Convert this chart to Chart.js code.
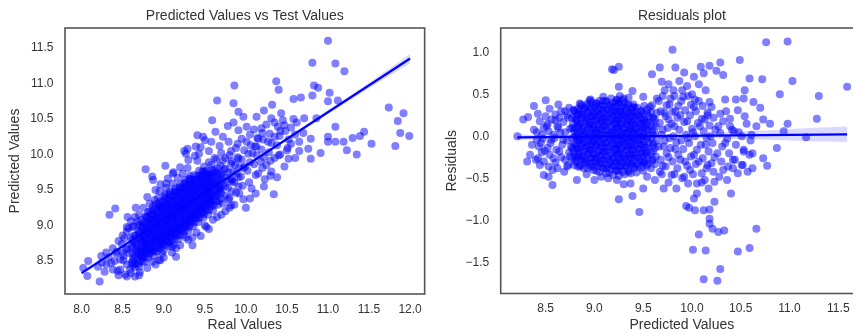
<!DOCTYPE html>
<html>
<head>
<meta charset="utf-8">
<script src="https://cdn.jsdelivr.net/npm/chart.js@4.4.1/dist/chart.umd.min.js"></script>
<style>
html, body { margin: 0; padding: 0; background: #fff; overflow: hidden; width: 853px; height: 334px; }
#left { position: absolute; left: 0; top: 0; }
#right { position: absolute; left: 430px; top: 0; }
</style>
</head>
<body>
<canvas id="left" width="430" height="334"></canvas>
<canvas id="right" width="440" height="334"></canvas>
<script>
// ---- tick labels ----
let leftXTicks = [8.0, 8.5, 9.0, 9.5, 10.0, 10.5, 11.0, 11.5, 12.0];
let leftYTicks = [8.5, 9.0, 9.5, 10.0, 10.5, 11.0, 11.5];
let rightXTicks = [8.5, 9.0, 9.5, 10.0, 10.5, 11.0, 11.5];
let rightYTicks = [-1.5, -1.0, -0.5, 0.0, 0.5, 1.0];

// ---- left: real value vs predicted value ----
let testVsPredicted = [
  [11.0,11.6],[10.81,11.29],[11.09,11.28],[11.2,11.17],[10.37,11.03],[10.4,10.91],[9.86,10.97],[10.83,10.97],
  [10.88,10.94],[11.02,10.87],[9.65,10.76],[10.58,10.78],[10.67,10.8],[10.81,10.83],[11.12,10.76],[11.0,10.75],
  [9.85,10.72],[11.74,10.66],[11.92,10.58],[11.85,10.47],[11.88,10.3],[11.99,10.26],[11.82,10.12],[11.53,10.15],
  [11.44,10.32],[11.39,10.26],[11.3,10.23],[11.35,10.0],[11.23,10.06],[11.19,10.18],[11.09,10.18],[11.0,10.18],
  [11.0,10.25],[11.09,10.39],[10.91,10.02],[10.79,9.94],[10.79,10.22],[10.86,10.51],[10.71,10.51],[10.58,10.5],
  [10.47,10.41],[10.51,10.09],[10.65,10.05],[10.65,10.18],[10.76,10.08],[10.32,10.7],[10.43,10.58],[10.22,10.62],
  [10.13,10.53],[9.91,10.6],[9.97,10.53],[9.91,10.34],[10.01,10.39],[10.19,10.37],[10.31,10.51],[10.27,10.18],
  [10.15,10.22],[10.35,10.25],[10.13,10.11],[10.01,10.18],[9.79,10.18],[9.59,10.48],[9.63,10.32],[9.48,10.25],
  [9.41,10.27],[9.29,10.08],[9.39,10.11],[9.27,10.01],[9.43,10.01],[10.34,9.44],[10.0,9.25],[9.86,9.29],
  [9.79,9.37],[9.97,9.37],[10.23,9.65],[10.31,9.76],[10.47,9.83],[10.52,9.94],[10.07,9.52],[10.15,9.73],
  [9.83,9.64],[9.99,9.83],[9.69,9.5],[9.55,9.45],[9.52,8.98],[9.35,8.83],[9.27,8.83],[9.15,8.56],
  [9.1,8.7],[8.96,8.51],[8.98,8.61],[8.78,9.79],[8.87,9.64],[8.86,9.69],[9.02,9.84],[9.11,9.73],
  [9.03,9.59],[8.34,9.15],[8.41,9.24],[8.66,9.25],[8.02,8.4],[8.07,8.29],[8.22,8.21],[8.08,8.5],
  [8.24,8.57],[8.2,8.42],[8.42,8.61],[8.36,8.47],[8.47,8.38],[8.6,8.33],[8.7,8.42],[8.74,8.49],
  [8.51,8.51],[8.62,8.44],[8.54,8.67],[8.86,8.49],[8.56,9.12],[8.62,8.98],
  [9.62,9.95],[9.7,10.02],[9.75,9.95],[9.82,10.05],[9.9,10.15],[9.95,10.22],[10.05,10.28],[10.1,10.35],
  [10.2,10.3],[10.25,10.42],[10.35,10.45],[10.42,10.33],[10.45,10.48],[10.55,10.38],[10.6,10.28],[10.7,10.3],
  [10.62,10.45],[9.68,10.12],[9.55,10.05],[9.58,10.18],[9.72,10.25],[9.85,10.45],[9.78,10.4],[10.08,10.02],
  [10.18,9.9],[10.25,9.85],[10.35,9.95],[10.42,10.0],[10.3,9.7],[10.22,9.55],[10.12,9.45],[10.05,9.38],
  [9.92,9.45],[9.82,9.28],[9.75,9.2],[9.65,9.12],[10.38,9.68],[10.55,10.15],[10.6,9.95],
  [8.3,8.45],[8.33,8.55],[8.38,8.38],[8.4,8.5],[8.45,8.3],[8.5,8.62],[8.38,8.68],[8.45,8.78],
  [8.5,8.86],[8.55,8.98],[8.6,9.06],[8.65,9.12],[8.55,8.28],[8.65,8.28],[8.3,8.62],[8.25,8.48],[8.28,8.35],
  [8.75,9.25],[8.8,9.4],[8.9,9.5],[8.95,9.48],[8.7,9.15],
  [8.96,9.58],[9.05,9.66],[9.12,9.75],[9.2,9.82],[9.3,9.92],[9.38,9.98],[9.25,10.05],[9.45,10.1],
  [9.5,10.2],[9.2,8.72],[9.3,8.8],[9.4,8.9],[9.5,9.0],[9.6,9.08],[9.7,9.15],[9.8,9.25],
  [9.45,8.85],[9.35,8.72],[9.55,8.95],[9.1,8.62],[9.0,8.55],[8.9,8.45],[8.8,8.4],[8.7,8.3],[9.15,8.68],
  // dense band
  [8.44,8.36],[8.47,8.52],[8.43,8.63],[8.49,8.74],
  [8.53,8.31],[8.55,8.45],[8.51,8.57],[8.56,8.67],[8.52,8.82],[8.55,8.91],
  [8.59,8.38],[8.61,8.47],[8.58,8.61],[8.62,8.71],[8.60,8.83],[8.57,8.96],
  [8.65,8.41],[8.63,8.53],[8.67,8.62],[8.64,8.76],[8.66,8.86],[8.63,8.99],[8.68,9.06],
  [8.71,8.34],[8.69,8.46],[8.72,8.57],[8.70,8.67],[8.73,8.79],[8.71,8.89],[8.69,9.01],
  [8.77,8.49],[8.75,8.61],[8.78,8.71],[8.76,8.81],[8.79,8.93],[8.75,9.03],[8.78,9.13],
  [8.81,8.55],[8.83,8.65],[8.80,8.75],[8.84,8.85],[8.82,8.96],[8.85,9.06],[8.81,9.19],[8.83,9.31],
  [8.88,8.57],[8.86,8.69],[8.89,8.79],[8.87,8.89],[8.90,8.99],[8.88,9.09],[8.86,9.21],[8.89,9.36],
  [8.94,8.51],[8.92,8.63],[8.95,8.73],[8.93,8.83],[8.96,8.93],[8.94,9.03],[8.92,9.13],[8.95,9.25],[8.93,9.39],
  [9.00,8.65],[8.98,8.77],[9.01,8.87],[8.99,8.97],[9.02,9.06],[9.00,9.16],[8.98,9.27],[9.01,9.41],[9.03,9.53],
  [9.06,8.71],[9.04,8.81],[9.07,8.91],[9.05,9.01],[9.08,9.11],[9.06,9.21],[9.04,9.31],[9.07,9.45],
  [9.12,8.73],[9.10,8.85],[9.13,8.95],[9.11,9.05],[9.14,9.15],[9.12,9.25],[9.10,9.35],[9.13,9.47],[9.11,9.59],
  [9.18,8.81],[9.16,8.91],[9.19,9.01],[9.17,9.11],[9.20,9.21],[9.18,9.31],[9.16,9.41],[9.19,9.53],[9.17,9.67],
  [9.24,8.87],[9.22,8.97],[9.25,9.07],[9.23,9.17],[9.26,9.27],[9.24,9.37],[9.22,9.47],[9.25,9.59],[9.23,9.73],
  [9.30,8.93],[9.28,9.03],[9.31,9.13],[9.29,9.23],[9.32,9.33],[9.30,9.43],[9.28,9.53],[9.31,9.65],[9.29,9.81],
  [9.36,8.99],[9.34,9.09],[9.37,9.19],[9.35,9.29],[9.38,9.39],[9.36,9.49],[9.34,9.59],[9.37,9.71],
  [9.42,9.05],[9.40,9.15],[9.43,9.25],[9.41,9.35],[9.44,9.45],[9.42,9.55],[9.40,9.65],[9.43,9.77],[9.41,9.91],
  [9.48,9.11],[9.46,9.21],[9.49,9.31],[9.47,9.41],[9.50,9.51],[9.48,9.61],[9.46,9.71],[9.49,9.83],
  [9.54,9.15],[9.52,9.27],[9.55,9.37],[9.53,9.47],[9.56,9.57],[9.54,9.67],[9.52,9.77],[9.55,9.89],
  [9.60,9.21],[9.58,9.33],[9.61,9.43],[9.59,9.53],[9.62,9.63],[9.60,9.73],[9.58,9.85],
  [9.66,9.29],[9.64,9.41],[9.67,9.51],[9.65,9.61],[9.68,9.71],[9.66,9.81],[9.64,9.93],
  [9.72,9.31],[9.70,9.46],[9.73,9.59],[9.71,9.69],[9.74,9.79],[9.72,9.91],
  [9.80,9.39],[9.78,9.53],[9.81,9.65],[9.79,9.75],[9.82,9.87],[9.80,9.99],
  [9.88,9.46],[9.86,9.61],[9.89,9.73],[9.87,9.85],[9.90,9.96],[9.88,10.09],
  [9.96,9.56],[9.94,9.69],[9.97,9.81],[9.95,9.93],[9.98,10.06],
  [10.04,9.61],[10.02,9.77],[10.05,9.89],[10.03,10.01],[10.06,10.13],
  [10.12,9.71],[10.10,9.86],[10.13,9.99],[10.11,10.11],[10.14,10.23],
  [10.20,9.81],[10.22,9.96],[10.19,10.07],[10.21,10.21],
  [10.30,9.91],[10.28,10.03],[10.31,10.16],[10.29,10.29],
  [10.40,9.99],[10.38,10.13],[10.41,10.26],[10.39,10.39],
  [10.50,10.06],[10.52,10.21],[10.48,10.33],
  [8.74,8.55],[8.74,8.66],[8.73,8.76],[8.75,8.86],[8.74,8.97],[8.73,9.08],
  [8.80,8.60],[8.79,8.70],[8.81,8.80],[8.80,8.90],[8.79,9.01],[8.80,9.12],
  [8.86,8.63],[8.85,8.74],[8.87,8.84],[8.86,8.94],[8.85,9.04],[8.86,9.15],[8.87,9.27],
  [8.92,8.68],[8.91,8.78],[8.93,8.88],[8.92,8.98],[8.91,9.08],[8.92,9.19],[8.93,9.31],
  [8.98,8.71],[8.97,8.82],[8.99,8.92],[8.98,9.02],[8.97,9.12],[8.98,9.22],[8.99,9.34],
  [9.04,8.76],[9.03,8.86],[9.05,8.96],[9.04,9.06],[9.03,9.16],[9.04,9.26],[9.05,9.38],
  [9.10,8.80],[9.09,8.90],[9.11,9.00],[9.10,9.10],[9.09,9.20],[9.10,9.30],[9.11,9.41],
  [9.16,8.86],[9.15,8.96],[9.17,9.06],[9.16,9.16],[9.15,9.26],[9.16,9.36],[9.17,9.47],
  [9.22,8.92],[9.21,9.02],[9.23,9.12],[9.22,9.22],[9.21,9.32],[9.22,9.42],[9.23,9.53],
  [9.28,8.98],[9.27,9.08],[9.29,9.18],[9.28,9.28],[9.27,9.38],[9.28,9.48],[9.29,9.58],
  [9.34,9.04],[9.33,9.14],[9.35,9.24],[9.34,9.34],[9.33,9.44],[9.34,9.54],[9.35,9.64],
  [9.40,9.10],[9.39,9.20],[9.41,9.30],[9.40,9.40],[9.39,9.50],[9.40,9.60],[9.41,9.70],
  [9.46,9.16],[9.45,9.26],[9.47,9.36],[9.46,9.46],[9.45,9.56],[9.46,9.66],[9.47,9.76],
  [9.52,9.21],[9.51,9.31],[9.53,9.41],[9.52,9.51],[9.51,9.61],[9.52,9.71],
  [9.58,9.27],[9.57,9.37],[9.59,9.47],[9.58,9.57],[9.57,9.67],[9.58,9.78],
  [9.64,9.34],[9.63,9.45],[9.65,9.55],[9.64,9.65],[9.63,9.75],
  [9.70,9.38],[9.69,9.52],[9.71,9.63],[9.70,9.73],[9.69,9.84],
  [8.62,8.50],[8.62,8.60],[8.61,8.70],[8.62,8.80],
  [8.68,8.52],[8.68,8.62],[8.67,8.72],[8.68,8.82],[8.69,8.92],
  [8.74,8.58],[8.73,8.68],[8.74,8.78],[8.75,8.88],[8.74,8.98],
  [8.79,8.63],[8.79,8.73],[8.78,8.83],[8.79,8.93],[8.80,9.03],[8.79,9.12],
  [8.85,8.66],[8.85,8.76],[8.84,8.86],[8.85,8.96],[8.86,9.06],[8.85,9.16],
  [8.91,8.70],[8.91,8.80],[8.90,8.90],[8.91,9.00],[8.92,9.10],[8.91,9.20],[8.90,9.30],
  [8.97,8.74],[8.97,8.84],[8.96,8.94],[8.97,9.04],[8.98,9.14],[8.97,9.24],[8.96,9.34],
  [9.03,8.78],[9.03,8.88],[9.02,8.98],[9.03,9.08],[9.04,9.18],[9.03,9.28],[9.02,9.38],
  [9.09,8.83],[9.09,8.93],[9.08,9.03],[9.09,9.13],[9.10,9.23],[9.09,9.33],[9.08,9.43],
  [9.15,8.88],[9.15,8.98],[9.14,9.08],[9.15,9.18],[9.16,9.28],[9.15,9.38],[9.14,9.48],
  [9.21,8.94],[9.21,9.04],[9.20,9.14],[9.21,9.24],[9.22,9.34],[9.21,9.44],[9.20,9.54],
  [9.27,9.00],[9.27,9.10],[9.26,9.20],[9.27,9.30],[9.28,9.40],[9.27,9.50],[9.26,9.60],
  [9.33,9.06],[9.33,9.16],[9.32,9.26],[9.33,9.36],[9.34,9.46],[9.33,9.56],[9.32,9.66],
  [9.39,9.12],[9.39,9.22],[9.38,9.32],[9.39,9.42],[9.40,9.52],[9.39,9.62],
  [9.45,9.18],[9.45,9.28],[9.44,9.38],[9.45,9.48],[9.46,9.58],[9.45,9.68],
  [9.51,9.24],[9.51,9.34],[9.50,9.44],[9.51,9.54],[9.52,9.64],[9.51,9.74],
  [9.57,9.30],[9.57,9.40],[9.56,9.50],[9.57,9.60],[9.58,9.70],
  [8.65,8.46],[8.65,8.56],[8.66,8.66],[8.65,8.76],[8.64,8.86],
  [8.71,8.50],[8.71,8.60],[8.72,8.70],[8.71,8.80],[8.70,8.90],[8.71,9.00],
  [8.77,8.55],[8.77,8.65],[8.78,8.75],[8.77,8.85],[8.76,8.95],[8.77,9.05],
  [8.83,8.60],[8.83,8.70],[8.84,8.80],[8.83,8.90],[8.82,9.00],[8.83,9.10],[8.83,9.20],
  [8.89,8.64],[8.89,8.74],[8.90,8.84],[8.89,8.94],[8.88,9.04],[8.89,9.14],[8.89,9.24],
  [8.95,8.68],[8.95,8.78],[8.96,8.88],[8.95,8.98],[8.94,9.08],[8.95,9.18],[8.95,9.28],
  [9.01,8.72],[9.01,8.82],[9.02,8.92],[9.01,9.02],[9.00,9.12],[9.01,9.22],[9.01,9.32],[9.02,9.44],
  [9.07,8.76],[9.07,8.86],[9.08,8.96],[9.07,9.06],[9.06,9.16],[9.07,9.26],[9.07,9.36],[9.08,9.48],
  [9.13,8.80],[9.13,8.90],[9.14,9.00],[9.13,9.10],[9.12,9.20],[9.13,9.30],[9.13,9.40],[9.14,9.52],
  [9.19,8.86],[9.19,8.96],[9.20,9.06],[9.19,9.16],[9.18,9.26],[9.19,9.36],[9.19,9.46],[9.20,9.58],
  [9.25,8.92],[9.25,9.02],[9.26,9.12],[9.25,9.22],[9.24,9.32],[9.25,9.42],[9.25,9.52],[9.26,9.64],
  [9.31,8.98],[9.31,9.08],[9.32,9.18],[9.31,9.28],[9.30,9.38],[9.31,9.48],[9.31,9.58],[9.32,9.70],
  [9.37,9.04],[9.37,9.14],[9.38,9.24],[9.37,9.34],[9.36,9.44],[9.37,9.54],[9.37,9.64],
  [9.43,9.10],[9.43,9.20],[9.44,9.30],[9.43,9.40],[9.42,9.50],[9.43,9.60],[9.43,9.70],
  [9.49,9.16],[9.49,9.26],[9.50,9.36],[9.49,9.46],[9.48,9.56],[9.49,9.66],[9.49,9.76],
  [9.55,9.22],[9.55,9.32],[9.56,9.42],[9.55,9.52],[9.54,9.62],[9.55,9.72],
  [9.61,9.28],[9.61,9.38],[9.62,9.48],[9.61,9.58],[9.60,9.68],[9.61,9.78],
  [9.67,9.34],[9.67,9.44],[9.68,9.54],[9.67,9.64],[9.66,9.74],
  [9.75,9.42],[9.75,9.56],[9.76,9.68],[9.75,9.80],
  [9.83,9.48],[9.83,9.62],[9.84,9.76],[9.83,9.90],
  [9.91,9.55],[9.91,9.68],[9.92,9.82],[9.91,9.94]
];
// regression line and its confidence band
let fitLineX = [8.0, 12.0];
let fitLineY = [8.33, 11.35];
let bandX = [8.0, 8.5, 9.0, 9.5, 10.0, 10.5, 11.0, 11.5, 12.0];
let bandUpper = [8.365, 8.73, 9.10, 9.475, 9.857, 10.24, 10.625, 11.01, 11.415];
let bandLower = [8.295, 8.685, 9.07, 9.445, 9.823, 10.20, 10.565, 10.93, 11.285];

// ---- right: predicted value vs residual ----
let residualPoints = [
  [10.76,1.12],[10.98,1.13],[9.80,1.03],[10.49,0.91],[10.29,0.88],[10.18,0.84],[10.09,0.83],[10.25,0.78],
  [10.12,0.75],[10.02,0.71],[9.18,0.80],[9.20,0.79],[9.25,0.83],[9.59,0.74],[9.67,0.82],[9.83,0.82],
  [9.92,0.76],[10.32,0.73],[10.59,0.69],[10.72,0.68],[11.03,0.66],[9.25,0.59],[9.39,0.54],[9.50,0.47],
  [10.90,0.50],[11.30,0.48],[11.59,0.59],[11.28,0.21],[10.98,0.15],[10.87,-0.14],[11.17,-0.01],[10.73,-0.26],
  [10.77,-0.35],[10.54,0.55],[10.53,0.45],[10.45,0.44],[10.34,0.44],[10.63,0.41],[10.70,0.34],[10.18,0.41],
  [10.03,0.44],[10.16,0.25],[10.29,0.27],[10.39,0.21],[10.47,0.31],[10.56,0.15],[10.66,0.12],[10.80,0.15],
  [10.73,0.20],[10.94,0.06],[10.61,0.02],[10.41,0.08],[10.53,-0.18],[10.51,-0.34],[10.47,-0.44],[10.40,-0.68],
  [10.32,-0.40],[10.23,-0.54],[10.15,-0.38],[10.05,-0.56],[9.96,-0.56],[9.84,-0.62],[9.76,-0.55],[9.71,-0.62],
  [10.05,-0.68],[10.02,-0.74],[9.94,-0.83],[9.97,-0.85],[10.03,-0.88],[10.12,-0.88],[10.18,-0.87],[10.23,-0.78],
  [10.18,-0.98],[10.18,-1.04],[10.21,-1.10],[10.27,-1.14],[10.33,-1.12],[10.07,-1.17],[10.01,-1.35],[10.14,-1.36],
  [10.47,-1.37],[10.59,-1.33],[10.66,-1.10],[10.29,-1.58],[10.12,-1.70],[10.26,-1.72],[9.25,-0.75],[9.39,-0.71],
  [9.46,-0.90],[9.30,-0.57],[9.37,-0.56],[9.50,-0.62],[9.00,-0.52],[8.82,-0.52],[8.57,-0.58],[8.53,-0.48],
  [8.48,-0.46],[8.21,0.0],[8.31,-0.30],[8.34,-0.22],[8.27,0.20],[8.32,0.23],[8.38,0.36],[8.50,0.43],
  [8.42,0.27],[8.40,-0.28],[8.44,-0.34],[8.46,-0.19],[8.53,-0.36],[8.62,-0.38],[8.72,-0.36],[8.75,-0.24],
  [8.68,-0.04],[8.56,-0.04],[8.41,-0.04],[8.51,0.12],[8.60,0.19],[8.63,0.10],[8.72,0.25],[8.78,0.31],
  [8.85,0.39],[8.95,0.43],[9.09,0.47],[9.23,0.43],[9.30,0.45],[9.40,0.35],[9.57,0.35],
  [9.64,0.45],[9.72,0.55],[9.76,0.62],[9.82,0.48],[9.90,0.55],[9.95,0.6],[10.0,0.5],[10.07,0.62],
  [10.14,0.55],[9.69,0.65],[9.87,0.66],
  [9.54,-0.48],[9.62,-0.52],[9.69,-0.45],[9.90,-0.5],[10.10,-0.55],[10.17,-0.62],[10.28,-0.48],[10.36,-0.52],
  [10.42,-0.28],[10.57,-0.42],[10.62,-0.2],[9.07,-0.48],[9.14,-0.5],[9.23,-0.52],[8.92,-0.45],
  // left shoulder
  [8.42,-0.26],[8.43,-0.12],[8.41,0.05],[8.44,0.18],
  [8.48,-0.30],[8.49,-0.17],[8.47,-0.03],[8.48,0.10],[8.50,0.24],
  [8.54,-0.22],[8.55,-0.08],[8.53,0.06],[8.56,0.20],[8.54,0.33],
  [8.60,-0.31],[8.61,-0.16],[8.59,-0.02],[8.62,0.12],[8.60,0.26],
  [8.66,-0.25],[8.67,-0.10],[8.65,0.04],[8.68,0.17],[8.66,0.30],
  [8.73,-0.34],[8.74,-0.19],[8.72,-0.05],[8.75,0.09],[8.73,0.22],[8.74,0.34],
  [8.69,-0.42],[8.63,0.38],[8.57,-0.40],
  [8.36,-0.10],[8.38,0.08],[8.45,-0.08],[8.46,0.02],[8.52,-0.14],[8.52,0.15],[8.58,0.02],[8.58,-0.26],
  [8.64,-0.18],[8.64,0.22],[8.70,-0.28],[8.70,0.05],[8.70,0.30],[8.76,-0.12],
  // dense core
  [8.79,-0.34],[8.80,-0.25],[8.78,-0.17],[8.79,-0.09],[8.81,-0.01],[8.79,0.07],[8.78,0.15],[8.80,0.23],[8.79,0.31],
  [8.82,-0.29],[8.83,-0.21],[8.82,-0.13],[8.84,-0.05],[8.82,0.03],[8.83,0.11],[8.82,0.19],[8.83,0.27],
  [8.85,-0.36],[8.86,-0.27],[8.85,-0.18],[8.87,-0.10],[8.85,-0.02],[8.86,0.06],[8.85,0.14],[8.87,0.22],[8.85,0.30],[8.86,0.38],
  [8.90,-0.31],[8.89,-0.23],[8.91,-0.14],[8.89,-0.06],[8.90,0.02],[8.89,0.10],[8.91,0.18],[8.89,0.26],[8.90,0.34],
  [8.93,-0.38],[8.92,-0.29],[8.94,-0.20],[8.92,-0.12],[8.93,-0.04],[8.92,0.04],[8.94,0.12],[8.92,0.20],[8.93,0.28],[8.92,0.36],
  [8.96,-0.33],[8.97,-0.25],[8.95,-0.16],[8.97,-0.08],[8.96,0.00],[8.97,0.08],[8.95,0.16],[8.97,0.24],[8.96,0.32],[8.97,0.41],
  [8.99,-0.40],[9.00,-0.30],[8.99,-0.21],[9.01,-0.13],[8.99,-0.05],[9.00,0.03],[8.99,0.11],[9.01,0.19],[8.99,0.27],[9.00,0.36],
  [9.03,-0.35],[9.02,-0.26],[9.04,-0.18],[9.02,-0.10],[9.03,-0.02],[9.02,0.06],[9.04,0.14],[9.02,0.22],[9.03,0.30],[9.02,0.39],
  [9.05,-0.42],[9.06,-0.32],[9.05,-0.23],[9.07,-0.15],[9.05,-0.07],[9.06,0.01],[9.05,0.09],[9.07,0.17],[9.05,0.25],[9.06,0.33],[9.05,0.42],
  [9.09,-0.37],[9.08,-0.28],[9.10,-0.19],[9.08,-0.11],[9.09,-0.03],[9.08,0.05],[9.10,0.13],[9.08,0.21],[9.09,0.29],[9.08,0.37],
  [9.12,-0.44],[9.13,-0.34],[9.12,-0.25],[9.14,-0.16],[9.12,-0.08],[9.13,0.00],[9.12,0.08],[9.14,0.16],[9.12,0.24],[9.13,0.32],[9.12,0.41],
  [9.17,-0.39],[9.16,-0.30],[9.18,-0.21],[9.16,-0.12],[9.17,-0.04],[9.16,0.04],[9.18,0.12],[9.16,0.20],[9.17,0.28],[9.16,0.36],[9.17,0.45],
  [9.19,-0.46],[9.20,-0.35],[9.19,-0.26],[9.21,-0.17],[9.19,-0.09],[9.20,-0.01],[9.19,0.07],[9.21,0.15],[9.19,0.23],[9.20,0.31],[9.19,0.40],
  [9.23,-0.41],[9.22,-0.31],[9.24,-0.22],[9.22,-0.13],[9.23,-0.05],[9.22,0.03],[9.24,0.11],[9.22,0.19],[9.23,0.27],[9.22,0.35],[9.23,0.44],
  [9.25,-0.47],[9.26,-0.36],[9.25,-0.27],[9.27,-0.18],[9.25,-0.10],[9.26,-0.02],[9.25,0.06],[9.27,0.14],[9.25,0.22],[9.26,0.30],[9.25,0.39],[9.26,0.48],
  [9.29,-0.42],[9.28,-0.32],[9.30,-0.23],[9.28,-0.14],[9.29,-0.06],[9.28,0.02],[9.30,0.10],[9.28,0.18],[9.29,0.26],[9.28,0.34],[9.29,0.43],
  [9.31,-0.45],[9.32,-0.35],[9.31,-0.26],[9.33,-0.17],[9.31,-0.09],[9.32,-0.01],[9.31,0.07],[9.33,0.15],[9.31,0.23],[9.32,0.31],[9.31,0.40],
  [9.35,-0.40],[9.34,-0.30],[9.36,-0.21],[9.34,-0.12],[9.35,-0.04],[9.34,0.04],[9.36,0.12],[9.34,0.20],[9.35,0.28],[9.34,0.37],[9.35,0.46],
  [9.37,-0.44],[9.38,-0.34],[9.37,-0.25],[9.39,-0.16],[9.37,-0.08],[9.38,0.00],[9.37,0.08],[9.39,0.16],[9.37,0.24],[9.38,0.33],
  [9.41,-0.38],[9.40,-0.29],[9.42,-0.20],[9.40,-0.11],[9.41,-0.03],[9.40,0.05],[9.42,0.13],[9.40,0.21],[9.41,0.29],[9.40,0.38],
  [9.43,-0.43],[9.44,-0.33],[9.43,-0.24],[9.45,-0.15],[9.43,-0.07],[9.44,0.01],[9.43,0.09],[9.45,0.17],[9.43,0.25],[9.44,0.34],
  [9.48,-0.37],[9.47,-0.28],[9.49,-0.19],[9.47,-0.10],[9.48,-0.02],[9.47,0.06],[9.49,0.14],[9.47,0.22],[9.48,0.30],
  [9.50,-0.41],[9.51,-0.32],[9.50,-0.23],[9.52,-0.14],[9.50,-0.06],[9.51,0.02],[9.50,0.10],[9.52,0.18],[9.50,0.27],[9.51,0.36],
  [9.54,-0.35],[9.55,-0.26],[9.54,-0.17],[9.56,-0.08],[9.54,0.00],[9.55,0.08],[9.54,0.16],[9.56,0.24],[9.54,0.32],
  [9.58,-0.38],[9.59,-0.29],[9.58,-0.20],[9.60,-0.11],[9.58,-0.03],[9.59,0.05],[9.58,0.13],[9.60,0.21],[9.58,0.29],[9.59,0.37],
  [9.62,-0.33],[9.63,-0.24],[9.62,-0.14],[9.64,-0.05],[9.62,0.04],[9.63,0.12],[9.62,0.20],[9.64,0.28],
  [8.80,-0.30],[8.80,-0.20],[8.81,-0.10],[8.80,0.00],[8.80,0.10],[8.81,0.20],[8.80,0.30],
  [8.86,-0.34],[8.87,-0.24],[8.86,-0.14],[8.86,-0.04],[8.87,0.06],[8.86,0.16],[8.86,0.26],[8.87,0.36],
  [8.93,-0.31],[8.93,-0.21],[8.94,-0.11],[8.93,-0.01],[8.93,0.09],[8.94,0.19],[8.93,0.29],[8.93,0.39],
  [8.99,-0.36],[9.00,-0.26],[8.99,-0.16],[8.99,-0.06],[9.00,0.04],[8.99,0.14],[8.99,0.24],[9.00,0.34],
  [9.06,-0.33],[9.06,-0.23],[9.07,-0.13],[9.06,-0.03],[9.06,0.07],[9.07,0.17],[9.06,0.27],[9.06,0.37],
  [9.12,-0.38],[9.13,-0.28],[9.12,-0.18],[9.12,-0.08],[9.13,0.02],[9.12,0.12],[9.12,0.22],[9.13,0.32],[9.12,0.42],
  [9.19,-0.35],[9.19,-0.25],[9.20,-0.15],[9.19,-0.05],[9.19,0.05],[9.20,0.15],[9.19,0.25],[9.19,0.35],
  [9.25,-0.40],[9.26,-0.30],[9.25,-0.20],[9.25,-0.10],[9.26,0.00],[9.25,0.10],[9.25,0.20],[9.26,0.30],[9.25,0.40],
  [9.32,-0.36],[9.32,-0.26],[9.33,-0.16],[9.32,-0.06],[9.32,0.04],[9.33,0.14],[9.32,0.24],[9.32,0.34],
  [9.38,-0.32],[9.39,-0.22],[9.38,-0.12],[9.38,-0.02],[9.39,0.08],[9.38,0.18],[9.38,0.28],
  [9.45,-0.35],[9.45,-0.25],[9.46,-0.15],[9.45,-0.05],[9.45,0.05],[9.46,0.15],[9.45,0.25],
  [9.51,-0.30],[9.52,-0.20],[9.51,-0.10],[9.51,0.00],[9.52,0.10],[9.51,0.20],
  [8.77,-0.26],[8.77,-0.14],[8.77,-0.02],[8.77,0.10],[8.77,0.22],
  [8.83,-0.36],[8.83,-0.25],[8.83,-0.15],[8.83,-0.05],[8.83,0.05],[8.83,0.15],[8.83,0.25],[8.83,0.33],
  [8.89,-0.38],[8.89,-0.28],[8.89,-0.18],[8.89,-0.08],[8.89,0.02],[8.89,0.12],[8.89,0.22],[8.89,0.32],
  [8.96,-0.36],[8.96,-0.26],[8.96,-0.16],[8.96,-0.06],[8.96,0.04],[8.96,0.14],[8.96,0.24],[8.96,0.34],[8.96,0.44],
  [9.02,-0.41],[9.02,-0.31],[9.02,-0.21],[9.02,-0.11],[9.02,-0.01],[9.02,0.09],[9.02,0.19],[9.02,0.29],[9.02,0.39],
  [9.09,-0.38],[9.09,-0.28],[9.09,-0.18],[9.09,-0.08],[9.09,0.02],[9.09,0.12],[9.09,0.22],[9.09,0.32],[9.09,0.42],
  [9.15,-0.43],[9.15,-0.33],[9.15,-0.23],[9.15,-0.13],[9.15,-0.03],[9.15,0.07],[9.15,0.17],[9.15,0.27],[9.15,0.37],
  [9.22,-0.40],[9.22,-0.30],[9.22,-0.20],[9.22,-0.10],[9.22,0.00],[9.22,0.10],[9.22,0.20],[9.22,0.30],[9.22,0.40],
  [9.28,-0.35],[9.28,-0.25],[9.28,-0.15],[9.28,-0.05],[9.28,0.05],[9.28,0.15],[9.28,0.25],[9.28,0.35],
  [9.35,-0.42],[9.35,-0.32],[9.35,-0.22],[9.35,-0.12],[9.35,-0.02],[9.35,0.08],[9.35,0.18],[9.35,0.28],[9.35,0.38],
  [9.41,-0.36],[9.41,-0.26],[9.41,-0.16],[9.41,-0.06],[9.41,0.04],[9.41,0.14],[9.41,0.24],[9.41,0.34],
  [9.48,-0.30],[9.48,-0.20],[9.48,-0.10],[9.48,0.00],[9.48,0.10],[9.48,0.20],[9.48,0.30],
  [9.54,-0.33],[9.54,-0.23],[9.54,-0.13],[9.54,-0.03],[9.54,0.07],[9.54,0.17],[9.54,0.27],
  [9.60,-0.28],[9.60,-0.18],[9.60,-0.08],[9.60,0.02],[9.60,0.12],[9.60,0.22],
  // looser band right of the core
  [9.67,-0.42],[9.68,-0.28],[9.66,-0.12],[9.69,0.02],[9.67,0.16],[9.68,0.30],[9.66,0.42],
  [9.73,-0.36],[9.74,-0.20],[9.72,-0.05],[9.75,0.10],[9.73,0.24],[9.74,0.37],
  [9.79,-0.46],[9.80,-0.30],[9.78,-0.14],[9.81,0.00],[9.79,0.15],[9.80,0.29],[9.78,0.45],
  [9.85,-0.38],[9.86,-0.22],[9.84,-0.07],[9.87,0.08],[9.85,0.22],[9.86,0.36],
  [9.92,-0.48],[9.93,-0.30],[9.91,-0.15],[9.94,0.02],[9.92,0.17],[9.93,0.31],[9.91,0.47],
  [9.98,-0.40],[9.99,-0.24],[9.97,-0.08],[10.00,0.09],[9.98,0.25],[9.99,0.38],
  [10.04,-0.33],[10.05,-0.16],[10.03,0.00],[10.06,0.16],[10.04,0.30],
  [10.10,-0.44],[10.11,-0.26],[10.09,-0.10],[10.12,0.06],[10.10,0.21],[10.11,0.36],
  [10.16,-0.34],[10.17,-0.18],[10.15,-0.02],[10.18,0.13],[10.16,0.28],
  [10.22,-0.42],[10.23,-0.25],[10.21,-0.08],[10.24,0.08],[10.22,0.22],
  [10.30,-0.30],[10.31,-0.12],[10.29,0.04],[10.32,0.18],
  [10.37,-0.36],[10.38,-0.20],[10.36,-0.03],[10.39,0.12],
  [10.44,-0.28],[10.45,-0.10],[10.43,0.06],
  [10.52,-0.34],[10.53,-0.16],[10.51,0.00],[10.54,0.24],
  [10.59,-0.22],[10.60,-0.05],[10.62,-0.38],
  [9.70,-0.35],[9.71,-0.12],[9.70,0.08],[9.72,0.28],[9.70,0.48],
  [9.76,-0.25],[9.77,-0.02],[9.76,0.20],[9.77,0.38],
  [9.82,-0.45],[9.83,-0.15],[9.82,0.12],[9.83,0.30],[9.81,0.55],
  [9.88,-0.28],[9.89,-0.05],[9.88,0.25],[9.89,0.42],
  [9.95,-0.35],[9.96,-0.02],[9.95,0.18],[9.96,0.48],
  [10.01,-0.45],[10.02,-0.22],[10.01,0.05],[10.02,0.35],
  [10.07,-0.30],[10.08,0.12],[10.07,0.42],
  [10.13,-0.52],[10.14,-0.10],[10.13,0.20],
  [10.20,-0.32],[10.19,0.00],[10.20,0.35],
  [10.26,-0.20],[10.27,0.12],[10.34,-0.08],[10.35,0.30],[10.42,-0.38],[10.48,0.05]
];
let residFitX = [8.21, 11.59];
let residFitY = [-0.012, 0.024];
let residBandX = [8.21, 8.75, 9.25, 9.75, 10.25, 10.75, 11.25, 11.59];
let residBandUpper = [0.023, 0.014, 0.013, 0.025, 0.045, 0.071, 0.101, 0.116];
let residBandLower = [-0.047, -0.026, -0.015, -0.015, -0.025, -0.039, -0.059, -0.068];

let fontFamily = "'Liberation Sans', Arial, sans-serif";
let textColor = '#333';

let framePlugin = {
    id: 'frame',
    afterDatasetsDraw(chart) {
        let {ctx, chartArea: a} = chart;
        ctx.save();
        ctx.strokeStyle = '#555';
        ctx.lineWidth = 1.6;
        ctx.strokeRect(a.left, a.top, a.right - a.left, a.bottom - a.top);
        ctx.restore();
    }
};

let toXY = (xs, ys) => xs.map((x, i) => ({x: x, y: ys[i]}));

let makeChart = (id, cfg) => {
    let fmt = v => v.toFixed(1).replace('-', '\u2212');
    return new Chart(document.getElementById(id), {
        type: 'scatter',
        data: {
            datasets: [
                {
                    type: 'line',
                    data: toXY(cfg.fitX, cfg.fitY),
                    borderColor: 'rgb(0, 0, 255)',
                    borderWidth: 2.2,
                    pointRadius: 0,
                    fill: false,
                    order: 0
                },
                {
                    type: 'line',
                    data: toXY(cfg.bandX, cfg.bandUpper),
                    borderWidth: 0,
                    pointRadius: 0,
                    fill: false,
                    order: 1
                },
                {
                    type: 'line',
                    data: toXY(cfg.bandX, cfg.bandLower),
                    borderWidth: 0,
                    pointRadius: 0,
                    backgroundColor: 'rgba(0, 0, 255, 0.15)',
                    fill: 1,
                    order: 1
                },
                {
                    data: cfg.points.map(p => ({x: p[0], y: p[1]})),
                    backgroundColor: 'rgba(0, 0, 255, 0.5)',
                    borderWidth: 0,
                    pointRadius: 4,
                    pointHoverRadius: 4,
                    order: 2
                }
            ]
        },
        options: {
            responsive: false,
            animation: false,
            devicePixelRatio: 1,
            events: [],
            layout: {padding: {left: 0, right: cfg.padRight, top: 0, bottom: 0}},
            plugins: {
                legend: {display: false},
                tooltip: {enabled: false},
                title: {
                    display: true,
                    text: cfg.title,
                    fullSize: false,
                    color: textColor,
                    font: {family: fontFamily, size: 14, weight: 'normal'},
                    padding: {top: 7.6, bottom: 3.6}
                }
            },
            scales: {
                x: {
                    type: 'linear',
                    min: cfg.xMin,
                    max: cfg.xMax,
                    grid: {display: false, drawTicks: false},
                    border: {display: false},
                    afterBuildTicks: s => { s.ticks = cfg.xTicks.map(v => ({value: v})); },
                    afterFit: s => { s.height = cfg.xAxisHeight; },
                    ticks: {
                        padding: 8,
                        color: textColor,
                        autoSkip: false,
                        maxRotation: 0,
                        font: {family: fontFamily, size: 12},
                        callback: v => fmt(v)
                    },
                    title: {
                        display: true,
                        text: cfg.xTitle,
                        color: textColor,
                        font: {family: fontFamily, size: 14},
                        padding: {top: 0, bottom: 0}
                    }
                },
                y: {
                    type: 'linear',
                    min: cfg.yMin,
                    max: cfg.yMax,
                    grid: {display: false, drawTicks: false},
                    border: {display: false},
                    afterBuildTicks: s => { s.ticks = cfg.yTicks.map(v => ({value: v})); },
                    afterFit: s => { s.width = cfg.yAxisWidth; },
                    ticks: {
                        padding: 11.5,
                        color: textColor,
                        autoSkip: false,
                        font: {family: fontFamily, size: 12},
                        callback: v => fmt(v)
                    },
                    title: {
                        display: true,
                        text: cfg.yTitle,
                        color: textColor,
                        font: {family: fontFamily, size: 14},
                        padding: {top: cfg.yTitlePad, bottom: 0}
                    }
                }
            }
        },
        plugins: [framePlugin]
    });
};

makeChart('left', {
    title: 'Predicted Values vs Test Values',
    xTitle: 'Real Values',
    yTitle: 'Predicted Values',
    points: testVsPredicted,
    fitX: fitLineX, fitY: fitLineY,
    bandX: bandX, bandUpper: bandUpper, bandLower: bandLower,
    xTicks: leftXTicks, yTicks: leftYTicks,
    xMin: 7.798, xMax: 12.177,
    yMin: 8.035, yMax: 11.78,
    padRight: 1.7,
    xAxisHeight: 40,
    yAxisWidth: 65,
    yTitlePad: 6.6
});

makeChart('right', {
    title: 'Residuals plot',
    xTitle: 'Predicted Values',
    yTitle: 'Residuals',
    points: residualPoints,
    fitX: residFitX, fitY: residFitY,
    bandX: residBandX, bandUpper: residBandUpper, bandLower: residBandLower,
    xTicks: rightXTicks, yTicks: rightYTicks,
    xMin: 8.039, xMax: 11.753,
    yMin: -1.871, yMax: 1.29,
    padRight: 7,
    xAxisHeight: 40.5,
    yAxisWidth: 70.7,
    yTitlePad: 14.1
});
</script>
</body>
</html>
